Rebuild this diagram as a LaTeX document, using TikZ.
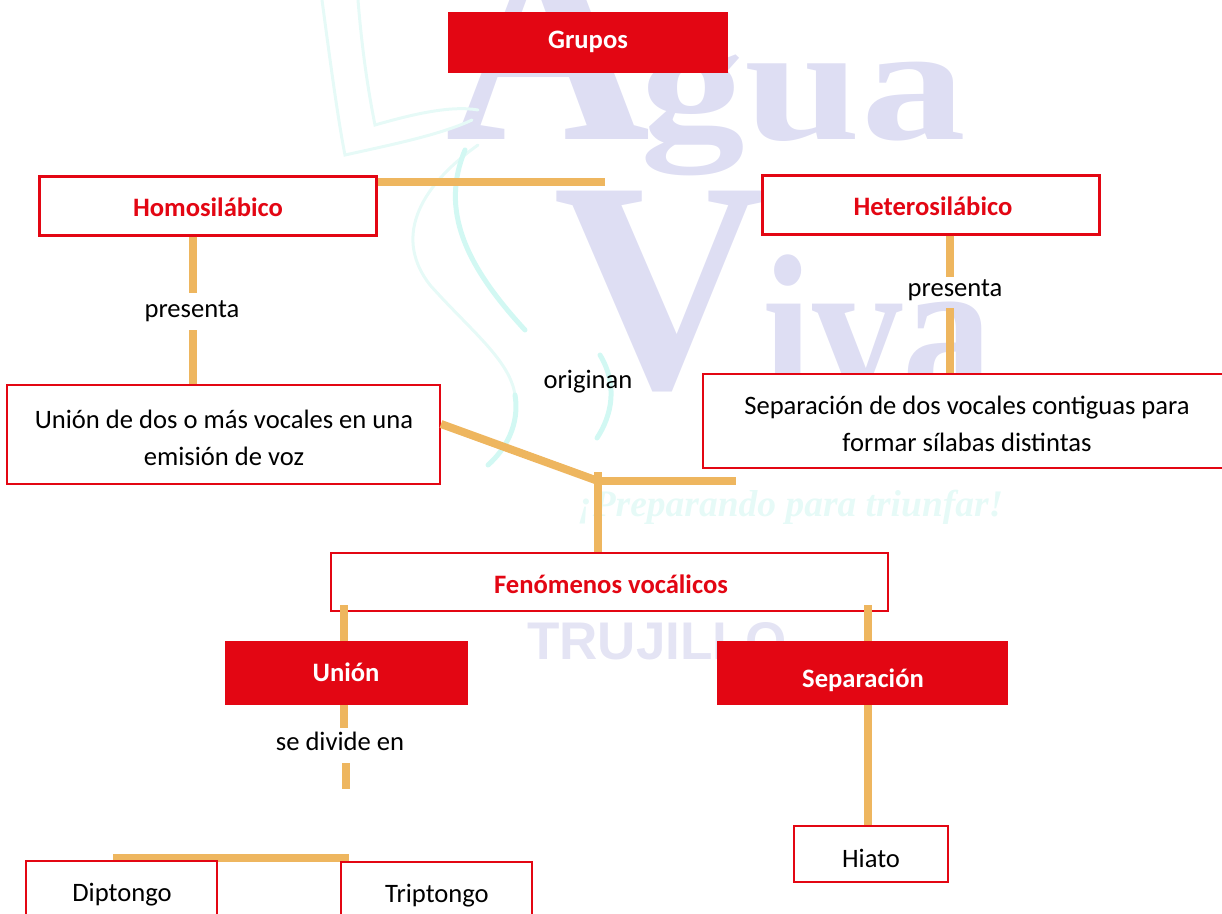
\documentclass[tikz,border=0pt]{standalone}
\usepackage{fontspec}
\setmainfont{Carlito}
\newfontfamily\wmserif{Liberation Serif}
\newfontfamily\wmsans{Liberation Sans}
\definecolor{rojo}{HTML}{E30613}
\definecolor{conn}{HTML}{EEB65F}
\definecolor{wm}{HTML}{DEDEF3}
\definecolor{wmsoft}{HTML}{E4E4F4}
\definecolor{wmteal}{HTML}{E6FAF7}
\definecolor{wmtealb}{HTML}{D2F8F3}
\tikzset{
  txt/.style={font=\fontsize{26.6}{37}\selectfont,text=black,align=center,inner sep=0pt},
  boldfont/.style={font=\fontsize{26.6}{32}\selectfont\bfseries},
  filledbox/.style={fill=rojo,draw=none,inner sep=0pt},
  redbox/.style={fill=white,draw=rojo,line width=2.5pt,inner sep=0pt},
  heavybox/.style={redbox,line width=3pt},
  link/.style={draw=conn,line width=8pt},
  wmark/.style={anchor=base west,inner sep=0pt,text=wm},
  wave/.style={draw=wmtealb,line width=5pt,line cap=round},
  faint/.style={draw=wmteal,line width=3pt,line cap=round},
}
\begin{document}
\begin{tikzpicture}[x=1pt,y=-1pt]
\useasboundingbox (0,0) rectangle (1222,913);
\begin{scope}
\clip (0,0) rectangle (1222,913);
% watermark
\node[wmark,font=\fontsize{284}{284}\selectfont\wmserif\bfseries] (wmA) at (445,139) {A};
\node[wmark,font=\fontsize{165}{165}\selectfont\wmserif\bfseries] (wmB) at (640,139) {\scalebox{1.27}[1]{gua}};
\node[wmark,font=\fontsize{300}{300}\selectfont\wmserif\bfseries] (wmC) at (553,387) {V};
\node[wmark,font=\fontsize{210}{210}\selectfont\wmserif\bfseries] (wmD) at (762,400) {\scalebox{.86}[1]{iva}};
\node[wmark,text=wmsoft,font=\fontsize{53}{53}\selectfont\wmsans\bfseries] (wmE) at (527,659) {TRUJILLO};
\node[wmark,text=wmteal,font=\fontsize{37.5}{37.5}\selectfont\wmserif\itshape\bfseries] (wmF) at (578,516) {¡Preparando para triunfar!};
\draw[faint] (322,0) .. controls (330,60) and (338,120) .. (345,155) .. controls (390,145) and (440,135) .. (472,120);
\draw[faint] (358,0) .. controls (362,50) and (368,90) .. (375,125) .. controls (410,115) and (450,105) .. (478,110);
\draw[faint] (478,145) .. controls (415,190) and (395,240) .. (430,285) .. controls (470,330) and (510,360) .. (515,395);
\draw[wave] (465,150) .. controls (440,210) and (465,265) .. (525,330);
\draw[wave] (515,395) .. controls (520,425) and (505,450) .. (488,465);
\draw[wave] (600,355) .. controls (618,385) and (612,415) .. (597,438);
% boxes
\node[filledbox,minimum width=280pt,minimum height=61pt] (grupos) at (588,42.5) {};
\node[heavybox,minimum width=337pt,minimum height=59pt] (homo) at (207.5,205.5) {};
\node[heavybox,minimum width=337pt,minimum height=59pt] (hetero) at (930.5,204.5) {};
\coordinate (homoEnd) at (605,182);
\coordinate (gapA) at (193,293);
\coordinate (resumeA) at (193,330);
\coordinate (linkA) at (193,385);
\coordinate (gapB) at (950,277);
\coordinate (resumeB) at (950,308);
\coordinate (linkB) at (950,375);
\draw[link] (homo.north east |- homoEnd) -- (homoEnd);
\draw[link] (homo.south -| gapA) -- (gapA);
\draw[link] (resumeA) -- (linkA);
\draw[link] (hetero.south -| gapB) -- (gapB);
\draw[link] (resumeB) -- (linkB);
\node[redbox,minimum width=433pt,minimum height=99pt] (union) at (223.5,434.5) {};
\node[redbox,minimum width=525pt,minimum height=94pt] (sepdef) at (965.5,421) {};
\coordinate (joint) at (598,481);
\coordinate (jointTop) at (598,472);
\coordinate (jointEnd) at (736,481);
\coordinate (unionOut) at (441,424);
\draw[link] (unionOut) -- (joint);
\draw[link] (joint) -- (jointEnd);
\node[redbox,line width=2pt,minimum width=557pt,minimum height=58pt] (fen) at (609.5,582) {};
\draw[link] (jointTop) -- (jointTop |- fen.north);
\node[filledbox,minimum width=243pt,minimum height=64pt] (unionb) at (346.5,673) {};
\node[filledbox,minimum width=291pt,minimum height=64pt] (sepb) at (862.5,673) {};
\coordinate (fenL) at (344,605);
\coordinate (fenR) at (868,605);
\draw[link] (fenL) -- (fenL |- unionb.north);
\draw[link] (fenR) -- (fenR |- sepb.north);
\node[redbox,minimum width=154pt,minimum height=56pt] (hiato) at (871,854) {};
\draw[link] (sepb.south -| fenR) -- (fenR |- hiato.north);
\coordinate (gapC) at (344,728);
\coordinate (resumeC) at (346,763);
\coordinate (divEnd) at (346,789);
\draw[link] (unionb.south -| gapC) -- (gapC);
\draw[link] (resumeC) -- (divEnd);
\coordinate (treeL) at (113,858);
\coordinate (treeR) at (349,858);
\draw[link] (treeL) -- (treeR);
\node[redbox,fill=none,minimum width=191pt,minimum height=80pt] (dip) at (121.5,901) {};
\node[redbox,fill=none,minimum width=191pt,minimum height=80pt] (trip) at (436.5,902) {};
% labels on the connectors
\node[txt] (lpres1) at (192,311) {presenta};
\node[txt] (lpres2) at (955,290) {presenta};
\node[txt] (ldiv) at (340,741) {se divide en};
% texts
\node[txt,text=white,boldfont] (tgrupos) at (588,42) {Grupos};
\node[txt,text=rojo,boldfont] (thomo) at (208,207) {Homosilábico};
\node[txt,text=rojo,boldfont] (thetero) at (933,206) {Heterosilábico};
\node[txt] (tunion) at (224,438) {Unión de dos o más vocales en una\\emisión de voz};
\node[txt] (tsep) at (967,424) {Separación de dos vocales contiguas para\\formar sílabas distintas};
\node[txt] (torig) at (588,382) {originan};
\node[txt,text=rojo,boldfont] (tfen) at (611,584) {Fenómenos vocálicos};
\node[txt,text=white,boldfont] (tunionb) at (346,672) {Unión};
\node[txt,text=white,boldfont] (tsepb) at (863,680) {Separación};
\node[txt] (thiato) at (871,858) {Hiato};
\node[txt] (tdip) at (122,895) {Diptongo};
\node[txt] (ttrip) at (437,896) {Triptongo};
\end{scope}
\end{tikzpicture}
\end{document}
